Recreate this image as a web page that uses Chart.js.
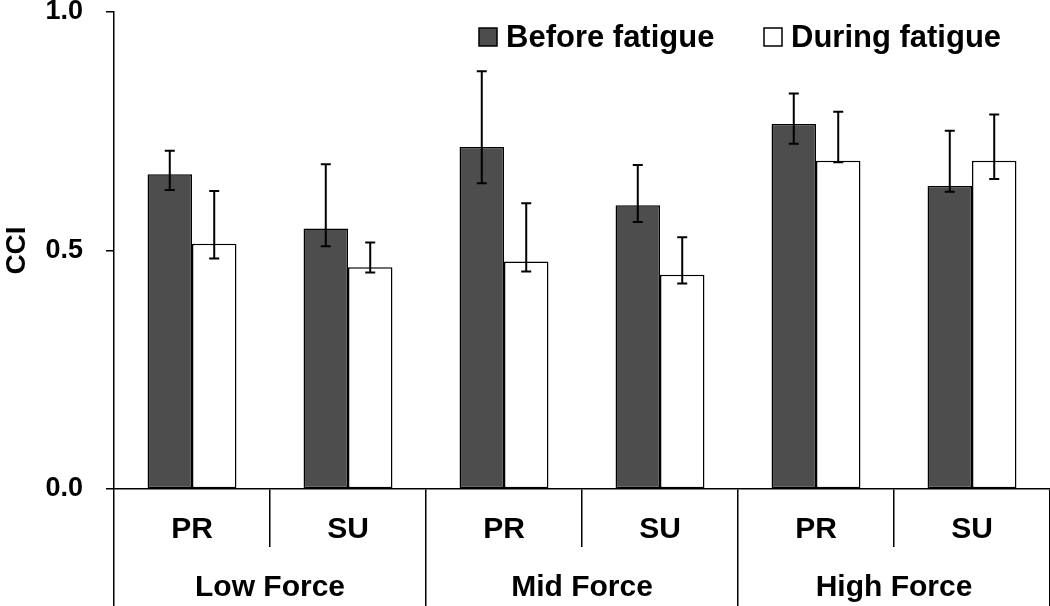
<!DOCTYPE html>
<html>
<head>
<meta charset="utf-8">
<script src="https://cdn.jsdelivr.net/npm/chart.js@4.4.1/dist/chart.umd.min.js"></script>
<style>
  html, body { margin: 0; padding: 0; background: #fff; }
</style>
</head>
<body>
<canvas id="chart" width="1050" height="606"></canvas>
<script>
// Data
const conditions = ['PR', 'SU', 'PR', 'SU', 'PR', 'SU'];
const forceLevels = ['Low Force', 'Mid Force', 'High Force'];
const yTicks = [0, 0.5, 1.0];

const beforeMean  = [0.660, 0.546, 0.717, 0.595, 0.765, 0.635];
const beforeUpper = [0.709, 0.681, 0.876, 0.679, 0.829, 0.751];
const beforeLower = [0.627, 0.509, 0.641, 0.560, 0.724, 0.623];

const duringMean  = [0.514, 0.465, 0.477, 0.449, 0.688, 0.688];
const duringUpper = [0.625, 0.517, 0.599, 0.528, 0.791, 0.785];
const duringLower = [0.483, 0.454, 0.456, 0.431, 0.685, 0.650];

Chart.defaults.font.family = "'Liberation Sans', Arial, sans-serif";
Chart.defaults.color = '#000';

// Draw the error bars on top of the bars
const errorBars = {
    id: 'errorBars',
    afterDatasetsDraw(chart) {
        const ctx = chart.ctx;
        const y = chart.scales.y;
        chart.data.datasets.forEach((ds, i) => {
            const meta = chart.getDatasetMeta(i);
            meta.data.forEach((bar, j) => {
                const top = y.getPixelForValue(ds.errUpper[j]);
                const bot = y.getPixelForValue(ds.errLower[j]);
                ctx.save();
                ctx.strokeStyle = '#000';
                ctx.lineWidth = 2;
                ctx.beginPath();
                ctx.moveTo(bar.x, top);
                ctx.lineTo(bar.x, bot);
                ctx.moveTo(bar.x - 5, top);
                ctx.lineTo(bar.x + 5, top);
                ctx.moveTo(bar.x - 5, bot);
                ctx.lineTo(bar.x + 5, bot);
                ctx.stroke();
                ctx.restore();
            });
        });
    }
};

// Simple legend in the top right corner
const topLegend = {
    id: 'topLegend',
    afterDraw(chart) {
        const ctx = chart.ctx;
        const spots = [479, 764];
        chart.data.datasets.forEach((ds, i) => {
            const x = spots[i];
            ctx.save();
            ctx.fillStyle = ds.backgroundColor;
            ctx.strokeStyle = '#000';
            ctx.lineWidth = 1.5;
            ctx.fillRect(x, 28, 18, 18);
            ctx.strokeRect(x, 28, 18, 18);
            ctx.fillStyle = '#000';
            ctx.font = "bold 31px 'Liberation Sans', Arial, sans-serif";
            ctx.textBaseline = 'middle';
            ctx.fillText(ds.label, x + 27, 38);
            ctx.restore();
        });
    }
};

// keep the scales from pushing the plot area around
const noPad = (s) => { s.paddingTop = 0; s.paddingBottom = 0; s.paddingLeft = 0; s.paddingRight = 0; };

const ctx = document.getElementById('chart').getContext('2d');
new Chart(ctx, {
    type: 'bar',
    data: {
        labels: conditions,
        datasets: [
            {
                label: 'Before fatigue',
                data: beforeMean,
                errUpper: beforeUpper,
                errLower: beforeLower,
                backgroundColor: '#4d4d4d',
                borderColor: '#000',
                borderWidth: 1.5,
                borderSkipped: false,
            },
            {
                label: 'During fatigue',
                data: duringMean,
                errUpper: duringUpper,
                errLower: duringLower,
                backgroundColor: '#ffffff',
                borderColor: '#000',
                borderWidth: 1.5,
                borderSkipped: false,
            },
        ],
    },
    options: {
        responsive: false,
        animation: false,
        categoryPercentage: 0.57,
        barPercentage: 1.0,
        layout: { padding: { top: 12, left: 0, right: 0, bottom: 0 } },
        plugins: {
            legend: { display: false },
            tooltip: { enabled: false },
        },
        scales: {
            y: {
                min: 0,
                max: 1,
                afterBuildTicks: (s) => { s.ticks = yTicks.map((v) => ({ value: v })); },
                ticks: {
                    callback: (v) => Number(v).toFixed(1),
                    font: { size: 27, weight: 'bold' },
                    color: '#000',
                    padding: 23,
                },
                grid: { drawOnChartArea: false, drawTicks: true, tickLength: 8, color: '#000', lineWidth: 1.5 },
                border: { display: true, color: '#000', width: 1.5 },
                title: {
                    display: true,
                    text: 'CCI',
                    font: { size: 28, weight: 'bold' },
                    color: '#000',
                    padding: { top: 0, bottom: 0 },
                },
                afterFit: (s) => { s.width = 114; noPad(s); },
            },
            x: {
                weight: 0,
                offset: true,
                grid: { offset: true, drawOnChartArea: false, drawTicks: true, tickLength: 58, color: '#000', lineWidth: 1.5 },
                border: { display: true, color: '#000', width: 1.5 },
                ticks: { font: { size: 30, weight: 'bold' }, color: '#000', padding: -35, maxRotation: 0, autoSkip: false },
                afterFit: (s) => { s.height = 58; noPad(s); },
            },
            x2: {
                type: 'category',
                labels: forceLevels,
                position: 'bottom',
                weight: 1,
                offset: true,
                grid: { offset: true, drawOnChartArea: false, drawTicks: true, tickLength: 59, color: '#000', lineWidth: 1.5 },
                border: { display: false },
                ticks: { font: { size: 30, weight: 'bold' }, color: '#000', padding: -36, maxRotation: 0, autoSkip: false },
                afterFit: (s) => { s.height = 59; noPad(s); },
            },
        },
    },
    plugins: [errorBars, topLegend],
});
</script>
</body>
</html>
